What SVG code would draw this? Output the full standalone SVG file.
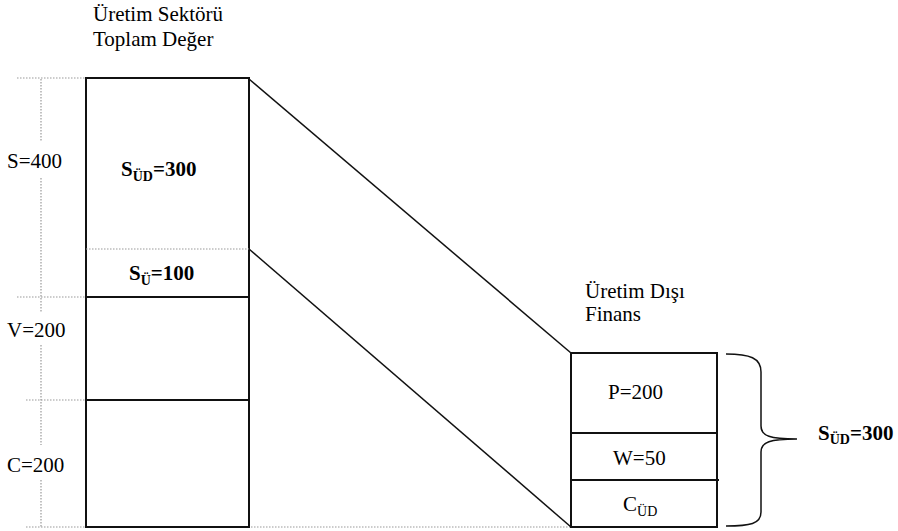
<svg xmlns="http://www.w3.org/2000/svg" width="898" height="531" viewBox="0 0 898 531">
<style>
text{font-family:"Liberation Serif","Times New Roman",serif;fill:#000;font-size:21px}
.b{font-weight:bold}
.sub{font-size:14px}
.box{fill:none;stroke:#111;stroke-width:2}
.ln{stroke:#111;stroke-width:2;fill:none}
.dl{stroke:#999;stroke-width:1.2;stroke-dasharray:1.5 1.5;fill:none}
.dg{stroke:#111;stroke-width:1.5;fill:none}
</style>
<rect width="898" height="531" fill="#fff"/>
<g id="axis">
<line class="dl" x1="41" y1="79" x2="41" y2="142"/>
<line class="dl" x1="41" y1="178" x2="41" y2="313"/>
<line class="dl" x1="41" y1="345" x2="41" y2="445"/>
<line class="dl" x1="41" y1="480" x2="41" y2="527"/>
<line class="dl" x1="17" y1="78" x2="86" y2="78"/>
<line class="dl" x1="17" y1="297" x2="86" y2="297"/>
<line class="dl" x1="26" y1="400" x2="86" y2="400"/>
<line class="dl" x1="26" y1="527" x2="571" y2="527"/>
<text x="7" y="168">S=400</text>
<text x="7" y="337">V=200</text>
<text x="7" y="472">C=200</text>
</g>
<g id="title-left">
<text x="93" y="21">Üretim Sektörü</text>
<text x="93" y="46">Toplam Değer</text>
</g>
<g id="left-box">
<rect class="box" x="86" y="78" width="163" height="449"/>
<line class="dl" x1="86" y1="249" x2="249" y2="249"/>
<line class="ln" x1="86" y1="297" x2="249" y2="297"/>
<line class="ln" x1="86" y1="400" x2="249" y2="400"/>
<text class="b" x="121" y="176">S<tspan class="sub" dy="5">ÜD</tspan><tspan dy="-5">=300</tspan></text>
<text class="b" x="129" y="280">S<tspan class="sub" dy="5">Ü</tspan><tspan dy="-5">=100</tspan></text>
</g>
<g id="connectors">
<line class="dg" x1="249" y1="79" x2="571" y2="353"/>
<line class="dg" x1="249" y1="249" x2="571" y2="527"/>
</g>
<g id="title-right">
<text x="585" y="298">Üretim Dışı</text>
<text x="585" y="321">Finans</text>
</g>
<g id="right-box">
<rect class="box" x="571" y="353" width="146" height="174"/>
<line class="ln" x1="571" y1="433" x2="717" y2="433"/>
<line class="ln" x1="571" y1="480" x2="719" y2="480"/>
<text x="608" y="399">P=200</text>
<text x="613" y="465">W=50</text>
<text x="623" y="511">C<tspan class="sub" dy="5">ÜD</tspan></text>
</g>
<g id="brace">
<path class="dg" d="M726,354 C750,354 761,358 761,372 L761,426 C761,436 770,439 797,439 C770,439 761,442 761,452 L761,512 C761,524 750,526 726,526"/>
<text class="b" x="818" y="440" font-size="20">S<tspan class="sub" dy="4">ÜD</tspan><tspan dy="-4">=300</tspan></text>
</g>
</svg>
